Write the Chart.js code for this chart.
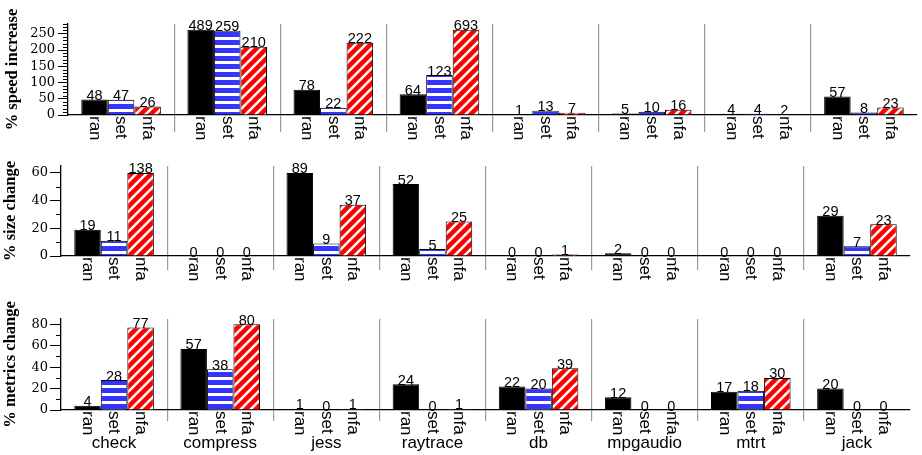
<!DOCTYPE html>
<html><head><meta charset="utf-8">
<script src="https://cdn.jsdelivr.net/npm/chart.js@4.4.1/dist/chart.umd.min.js"></script>
<style>
html,body{margin:0;padding:0;background:#fff;}
body{width:922px;height:455px;position:relative;overflow:hidden;}
canvas{position:absolute;left:0;}
</style></head><body>
<canvas id="c1" width="922" height="150" style="top:0px"></canvas>
<canvas id="c2" width="922" height="150" style="top:150px"></canvas>
<canvas id="c3" width="922" height="155" style="top:300px"></canvas>
<script>
// ---- data ----
const benchmarks = ['check','compress','jess','raytrace','db','mpgaudio','mtrt','jack'];
const seriesNames = ['ran','set','nfa'];

const speedRan = [48, 489, 78, 64, 1, 5, 4, 57];
const speedSet = [47, 259, 22, 123, 13, 10, 4, 8];
const speedNfa = [26, 210, 222, 693, 7, 16, 2, 23];

const sizeRan = [19, 0, 89, 52, 0, 2, 0, 29];
const sizeSet = [11, 0, 9, 5, 0, 0, 0, 7];
const sizeNfa = [138, 0, 37, 25, 1, 0, 0, 23];

const metricsRan = [4, 57, 1, 24, 22, 12, 17, 20];
const metricsSet = [28, 38, 0, 0, 20, 0, 18, 0];
const metricsNfa = [77, 80, 1, 1, 39, 0, 30, 0];

const speedTicks = [0, 50, 100, 150, 200, 250];
const sizeTicks = [0, 20, 40, 60];
const metricsTicks = [0, 20, 40, 60, 80];

const speedTitle = '% speed increase';
const sizeTitle = '% size change';
const metricsTitle = '% metrics change';

// ---- patterns ----
function stripePattern() {
  const c = document.createElement('canvas'); c.width = 8; c.height = 8;
  const g = c.getContext('2d');
  g.fillStyle = '#3535ff'; g.fillRect(0, 0, 8, 8);
  g.fillStyle = '#ffffff'; g.fillRect(0, 5, 8, 3);
  return g.createPattern(c, 'repeat');
}
function diagPattern() {
  const s = 10;
  const c = document.createElement('canvas'); c.width = s; c.height = s;
  const g = c.getContext('2d');
  g.fillStyle = '#ff0000'; g.fillRect(0, 0, s, s);
  g.strokeStyle = '#ffffff'; g.lineWidth = 2.6;
  g.beginPath();
  g.moveTo(-3, s + 3); g.lineTo(s + 3, -3);
  g.moveTo(-3, 3); g.lineTo(3, -3);
  g.moveTo(s - 3, s + 3); g.lineTo(s + 3, s - 3);
  g.stroke();
  return g.createPattern(c, 'repeat');
}

const decorPlugin = {
  id: 'decor',
  afterDatasetsDraw(chart) {
    const ctx = chart.ctx;
    const ys = chart.scales.y;
    const y0 = ys.getPixelForValue(0);
    const raw = chart.options.plugins.decor.raw;
    const majors = chart.options.plugins.decor.majors;
    ctx.save();
    chart.data.datasets.forEach((ds, di) => {
      const meta = chart.getDatasetMeta(di);
      meta.data.forEach((el, i) => {
        ctx.font = '14.5px "Liberation Sans"';
        ctx.fillStyle = '#000';
        ctx.textAlign = 'center';
        ctx.textBaseline = 'alphabetic';
        ctx.fillText(String(raw[di][i]), el.x, el.y + 0.5);
        ctx.save();
        ctx.translate(el.x, y0 + 1);
        ctx.rotate(Math.PI / 2);
        ctx.font = '17px "Liberation Sans"';
        ctx.textAlign = 'left';
        ctx.textBaseline = 'middle';
        ctx.fillText(seriesNames[di], 0, 0);
        ctx.restore();
      });
    });
    // minor ticks on y axis
    ctx.strokeStyle = '#000';
    ctx.lineWidth = 1;
    ys.ticks.forEach(t => {
      if (t.value % 10 === 0 && !majors.includes(t.value)) {
        const py = Math.round(ys.getPixelForValue(t.value)) + 0.5;
        ctx.beginPath();
        ctx.moveTo(ys.right - 5, py);
        ctx.lineTo(ys.right, py);
        ctx.stroke();
      }
    });
    ctx.restore();
  }
};

function makeChart(id, cfg) {
  const datasets = [
    {label: seriesNames[0], data: cfg.raw[0].map(v => Math.min(v, cfg.cap)), backgroundColor: '#000', borderColor: '#000', borderWidth: 1},
    {label: seriesNames[1], data: cfg.raw[1].map(v => Math.min(v, cfg.cap)), backgroundColor: stripePattern(), borderColor: '#000', borderWidth: 1},
    {label: seriesNames[2], data: cfg.raw[2].map(v => Math.min(v, cfg.cap)), backgroundColor: diagPattern(), borderColor: '#000', borderWidth: 1}
  ];
  return new Chart(document.getElementById(id), {
    type: 'bar',
    data: {labels: benchmarks, datasets},
    options: {
      responsive: false,
      animation: false,
      events: [],
      categoryPercentage: 0.75,
      barPercentage: 1.0,
      layout: {padding: {top: cfg.top, right: cfg.right, left: 0, bottom: 0}},
      plugins: {
        legend: {display: false},
        tooltip: {enabled: false},
        decor: {raw: cfg.raw, majors: cfg.ticks}
      },
      scales: {
        x: {
          type: 'category',
          offset: true,
          grid: {
            display: true,
            offset: true,
            drawOnChartArea: true,
            drawTicks: true,
            tickLength: cfg.sepBelow,
            lineWidth: 1.2,
            color: (c) => (c.index === undefined || c.index === 0) ? 'rgba(0,0,0,0)' : '#9a9a9a'
          },
          border: {display: true, color: '#000', width: 1.3},
          ticks: {
            display: cfg.showGroups,
            autoSkip: false,
            maxRotation: 0,
            minRotation: 0,
            padding: cfg.groupPad,
            color: '#000',
            font: {family: '"Liberation Sans"', size: 17}
          },
          afterFit(s) { s.height = cfg.xh; s.paddingLeft = 0; s.paddingRight = 0; }
        },
        y: {
          type: 'linear',
          min: 0,
          max: cfg.max,
          grid: {
            display: true,
            drawOnChartArea: false,
            drawTicks: true,
            tickLength: cfg.tickLen,
            tickWidth: 1,
            tickColor: (c) => (c.tick && cfg.ticks.includes(c.tick.value)) ? '#000' : 'rgba(0,0,0,0)'
          },
          border: {display: true, color: '#000', width: 1.3},
          ticks: {
            stepSize: 10,
            includeBounds: false,
            autoSkip: false,
            padding: cfg.tickPad,
            color: '#000',
            font: {family: '"DejaVu Serif"', size: 13},
            callback: (v) => cfg.ticks.includes(v) ? String(v) : ''
          },
          title: {
            display: true,
            text: cfg.title,
            color: '#000',
            padding: {top: cfg.titlePad, bottom: 0},
            font: {family: '"Liberation Serif"', weight: 'bold', size: 16.5}
          },
          afterFit(s) { s.width = cfg.yw; s.paddingTop = 0; s.paddingBottom = 0; }
        }
      }
    },
    plugins: [decorPlugin]
  });
}

makeChart('c1', {raw: [speedRan, speedSet, speedNfa], cap: 262, max: 280, ticks: speedTicks, title: speedTitle,
  top: 24, right: 5, yw: 68, xh: 35, sepBelow: 17, tickLen: 10, tickPad: 3, titlePad: 3, showGroups: false, groupPad: 0});
makeChart('c2', {raw: [sizeRan, sizeSet, sizeNfa], cap: 60, max: 65, ticks: sizeTicks, title: sizeTitle,
  top: 16, right: 12, yw: 61, xh: 44, sepBelow: 14, tickLen: 11, tickPad: 2, titlePad: 1, showGroups: false, groupPad: 0});
makeChart('c3', {raw: [metricsRan, metricsSet, metricsNfa], cap: 1000, max: 85, ticks: metricsTicks, title: metricsTitle,
  top: 19, right: 12, yw: 61, xh: 45, sepBelow: 11, tickLen: 11, tickPad: 2, titlePad: 1, showGroups: true, groupPad: 12});
</script>
</body></html>
